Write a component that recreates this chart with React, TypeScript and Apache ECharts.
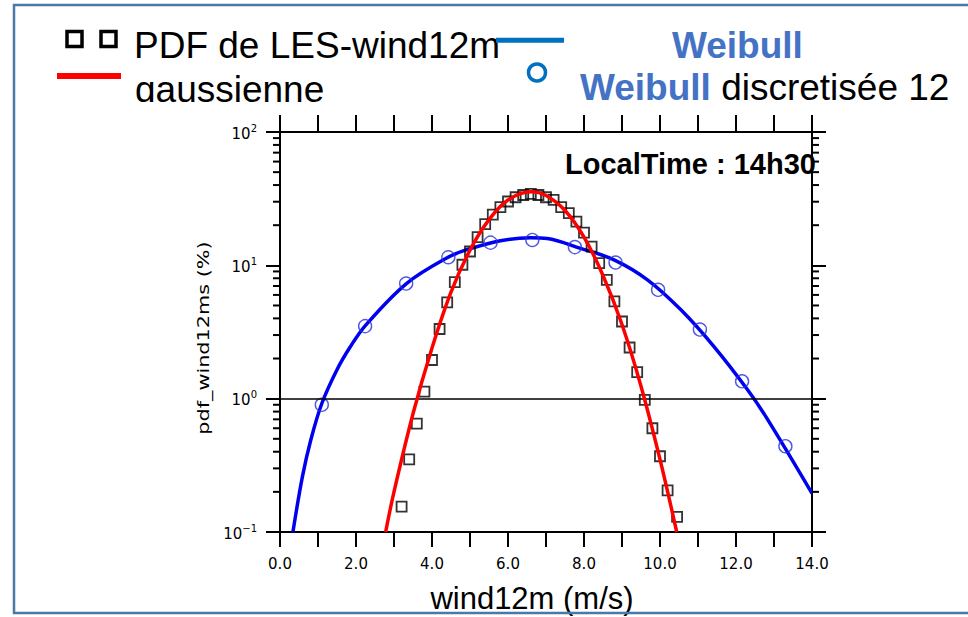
import React, { useEffect, useRef } from 'react';
import * as echarts from 'echarts';

// PDF de LES-wind12m (black squares): [wind (m/s), pdf (%)]
const pdfLes: number[][] = [
  [3.2, 0.155], [3.4, 0.35], [3.6, 0.65], [3.8, 1.13], [4.0, 1.95], [4.2, 3.33],
  [4.4, 5.27], [4.6, 7.48], [4.8, 10.1], [5.0, 12.7], [5.2, 16.3], [5.4, 20.4],
  [5.6, 24.0], [5.8, 27.3], [6.0, 30.1], [6.2, 32.4], [6.4, 33.7], [6.6, 34.3],
  [6.8, 33.7], [7.0, 32.4], [7.2, 31.0], [7.4, 27.3], [7.6, 24.6], [7.8, 21.3],
  [8.0, 17.6], [8.2, 13.8], [8.4, 10.4], [8.6, 7.78], [8.8, 5.36], [9.0, 3.79],
  [9.2, 2.42], [9.4, 1.58], [9.6, 0.98], [9.8, 0.6], [10.0, 0.37], [10.2, 0.205],
  [10.45, 0.13],
];

// gaussienne (red curve)
const gaussFit: number[][] = [
  [2.78, 0.1], [3.0, 0.2], [3.5, 0.77], [4.0, 2.4], [4.5, 6.3], [5.0, 13.0],
  [5.5, 22.0], [6.0, 30.9], [6.6, 35.6], [7.0, 33.4], [7.5, 25.8], [8.0, 16.3],
  [8.5, 8.4], [9.0, 3.6], [9.5, 1.24], [10.0, 0.35], [10.44, 0.1],
];

// Weibull (blue curve)
const weibullFit: number[][] = [
  [0.34, 0.1], [0.59, 0.26], [0.81, 0.49], [1.1, 0.92], [1.5, 1.65], [1.85, 2.45],
  [2.24, 3.52], [3.32, 7.27], [4.4, 11.4], [4.92, 13.1], [5.8, 15.3], [6.6, 16.1],
  [7.03, 15.9], [7.91, 13.4], [8.79, 11.0], [9.67, 7.79], [10.55, 4.64],
  [11.42, 2.46], [12.3, 1.17], [12.83, 0.7], [14.0, 0.195],
];

// Weibull discretisée 12 (blue circles)
const weibullDisc: number[][] = [
  [1.1, 0.9], [2.24, 3.5], [3.32, 7.3], [4.43, 11.5], [5.54, 14.8], [6.64, 15.5],
  [7.76, 13.7], [8.83, 10.5], [9.95, 6.55], [11.05, 3.3], [12.16, 1.35], [13.3, 0.44],
];

// axis settings / tick values
const xMin = 0;
const xMax = 14;
const xStep = 1;
const yMin = 0.1;
const yMax = 100;
const yMinorTicks = [
  0.2, 0.3, 0.4, 0.5, 0.6, 0.7, 0.8, 0.9,
  2, 3, 4, 5, 6, 7, 8, 9,
  20, 30, 40, 50, 60, 70, 80, 90,
];
const referenceLine = 1;

const legendMain = 'PDF de LES-wind12m';
const legendGauss = 'gaussienne';
const legendWeibull = 'Weibull';
const legendDisc = ' discretisée 12';
const timeLabel = 'LocalTime : 14h30';
const xTitle = 'wind12m (m/s)';
const yTitle = 'pdf_wind12ms (%)';

const SANS = 'Liberation Sans';

export default function App() {
  const ref = useRef<HTMLDivElement>(null);

  useEffect(() => {
    if (!ref.current) return;
    const chart = echarts.init(ref.current, null, { renderer: 'svg' });

    const frameLine = { show: true, onZero: false, lineStyle: { color: '#000', width: 2 } };

    const option: any = {
      animation: false,
      backgroundColor: '#ffffff',
      grid: { left: 280, top: 132, width: 532, height: 400, containLabel: false },
      xAxis: [
        {
          type: 'value', position: 'bottom', min: xMin, max: xMax, interval: xStep,
          axisLine: frameLine,
          axisTick: { show: true, inside: false, length: 15, lineStyle: { color: '#000', width: 2 } },
          axisLabel: {
            formatter: (v: number) => (Math.round(v) % 2 === 0 ? v.toFixed(1) : ''),
            margin: 24, fontFamily: 'DejaVu Sans', fontSize: 15, color: '#000',
          },
          splitLine: { show: false },
        },
        {
          type: 'value', position: 'top', min: xMin, max: xMax, interval: xStep,
          axisLine: frameLine,
          axisTick: { show: true, inside: false, length: 17, lineStyle: { color: '#000', width: 2 } },
          axisLabel: { show: false },
          splitLine: { show: false },
        },
      ],
      yAxis: [
        {
          type: 'log', logBase: 10, position: 'left', min: yMin, max: yMax,
          axisLine: frameLine,
          axisTick: { show: true, inside: false, length: 14, lineStyle: { color: '#000', width: 2 } },
          axisLabel: {
            margin: 23,
            fontSize: 15,
            formatter: (v: number) => {
              const e = Math.round(Math.log10(v));
              return `{b|10}{s|${e < 0 ? '\u2212' + -e : e}}`;
            },
            rich: {
              b: { fontFamily: 'DejaVu Sans', fontSize: 15, color: '#000', lineHeight: 18, verticalAlign: 'bottom' },
              s: { fontFamily: 'DejaVu Sans', fontSize: 10, color: '#000', lineHeight: 12, verticalAlign: 'top' },
            },
          },
          splitLine: { show: false },
        },
        {
          type: 'log', logBase: 10, position: 'right', min: yMin, max: yMax,
          axisLine: frameLine,
          axisTick: { show: true, inside: false, length: 14, lineStyle: { color: '#000', width: 2 } },
          axisLabel: { show: false },
          splitLine: { show: false },
        },
      ],
      series: [
        {
          name: 'Weibull',
          type: 'line', data: weibullFit, smooth: 0.35, showSymbol: false, symbol: 'none',
          lineStyle: { color: '#0000F0', width: 3.5 }, z: 2,
        },
        {
          name: 'Weibull discretisée 12',
          type: 'scatter', data: weibullDisc, symbol: 'circle', symbolSize: 13,
          itemStyle: { color: 'rgba(0,0,0,0)', borderColor: '#2430d8', borderWidth: 1.4 }, z: 3,
        },
        {
          name: 'PDF de LES-wind12m',
          type: 'scatter', data: pdfLes, symbol: 'rect', symbolSize: 10,
          itemStyle: { color: 'rgba(0,0,0,0)', borderColor: '#000', borderWidth: 1.8 }, z: 4,
          markLine: {
            silent: true, symbol: 'none', label: { show: false },
            lineStyle: { color: '#000', width: 1.6, type: 'solid' },
            data: [{ yAxis: referenceLine }],
          },
        },
        {
          name: 'gaussienne',
          type: 'line', data: gaussFit, smooth: 0.35, showSymbol: false, symbol: 'none',
          lineStyle: { color: '#FF0000', width: 3.5 }, z: 5,
        },
        {
          type: 'custom', coordinateSystem: 'cartesian2d', silent: true, clip: false, z: 6,
          data: yMinorTicks.map((v) => [xMin, v]),
          renderItem: (_p: any, api: any) => {
            const left = api.coord([xMin, api.value(1)]);
            const right = api.coord([xMax, api.value(1)]);
            return {
              type: 'group',
              children: [
                { type: 'line', shape: { x1: left[0] - 7, y1: left[1], x2: left[0], y2: left[1] }, style: { stroke: '#000', lineWidth: 2 } },
                { type: 'line', shape: { x1: right[0], y1: right[1], x2: right[0] + 7, y2: right[1] }, style: { stroke: '#000', lineWidth: 2 } },
              ],
            };
          },
        },
      ],
      graphic: [
        // outer blue frame
        { type: 'rect', z: 100, shape: { x: 14, y: 5, width: 1000, height: 608 }, style: { fill: 'none', stroke: '#4C78A8', lineWidth: 2.5 } },
        // legend markers
        { type: 'rect', z: 20, shape: { x: 67, y: 31.5, width: 15, height: 15 }, style: { fill: 'none', stroke: '#000', lineWidth: 3.5 } },
        { type: 'rect', z: 20, shape: { x: 101, y: 31.5, width: 15, height: 15 }, style: { fill: 'none', stroke: '#000', lineWidth: 3.5 } },
        { type: 'rect', z: 20, shape: { x: 57, y: 73, width: 64, height: 6 }, style: { fill: '#FF0000' } },
        { type: 'rect', z: 22, shape: { x: 496, y: 37.7, width: 68, height: 5 }, style: { fill: '#0070C0' } },
        { type: 'circle', z: 20, shape: { cx: 537, cy: 72.5, r: 8.5 }, style: { fill: 'none', stroke: '#0070C0', lineWidth: 3.5 } },
        // legend texts
        {
          type: 'text', z: 20, x: 134, y: 45.5,
          style: { text: legendMain, fontFamily: SANS, fontSize: 37, fill: '#000', textAlign: 'left', textVerticalAlign: 'middle' },
        },
        {
          type: 'text', z: 20, x: 135, y: 89,
          style: { text: legendGauss, fontFamily: SANS, fontSize: 37, fill: '#000', textAlign: 'left', textVerticalAlign: 'middle' },
        },
        { type: 'rect', z: 21, shape: { x: 125, y: 102, width: 220, height: 8.5 }, style: { fill: '#fff' } },
        {
          type: 'text', z: 20, x: 672, y: 45,
          style: { text: legendWeibull, fontFamily: SANS, fontSize: 37, fontWeight: 'bold', fill: '#4472C4', textAlign: 'left', textVerticalAlign: 'middle' },
        },
        {
          type: 'text', z: 20, x: 580, y: 87.5,
          style: {
            text: `{w|${legendWeibull}}${legendDisc}`, fontFamily: SANS, fontSize: 37, fill: '#000',
            textAlign: 'left', textVerticalAlign: 'middle',
            rich: { w: { fontFamily: SANS, fontSize: 37, fontWeight: 'bold', fill: '#4472C4' } },
          },
        },
        // annotation
        {
          type: 'text', z: 20, x: 565, y: 163.5,
          style: { text: timeLabel, fontFamily: SANS, fontSize: 29, fontWeight: 'bold', fill: '#000', textAlign: 'left', textVerticalAlign: 'middle' },
        },
        // axis titles
        {
          type: 'text', z: 20, x: 532, y: 598.5,
          style: { text: xTitle, fontFamily: SANS, fontSize: 31, fill: '#000', textAlign: 'center', textVerticalAlign: 'middle' },
        },
        {
          type: 'text', z: 20, x: 203, y: 338, rotation: Math.PI / 2, scaleX: 1.3, scaleY: 1,
          style: { text: yTitle, fontFamily: 'DejaVu Sans', fontSize: 16, fill: '#000', textAlign: 'center', textVerticalAlign: 'middle' },
        },
      ],
    };

    chart.setOption(option);
    return () => chart.dispose();
  }, []);

  return (
    <div
      ref={ref}
      style={{ position: 'absolute', left: 0, top: 0, width: 968, height: 617, background: '#fff' }}
    />
  );
}
